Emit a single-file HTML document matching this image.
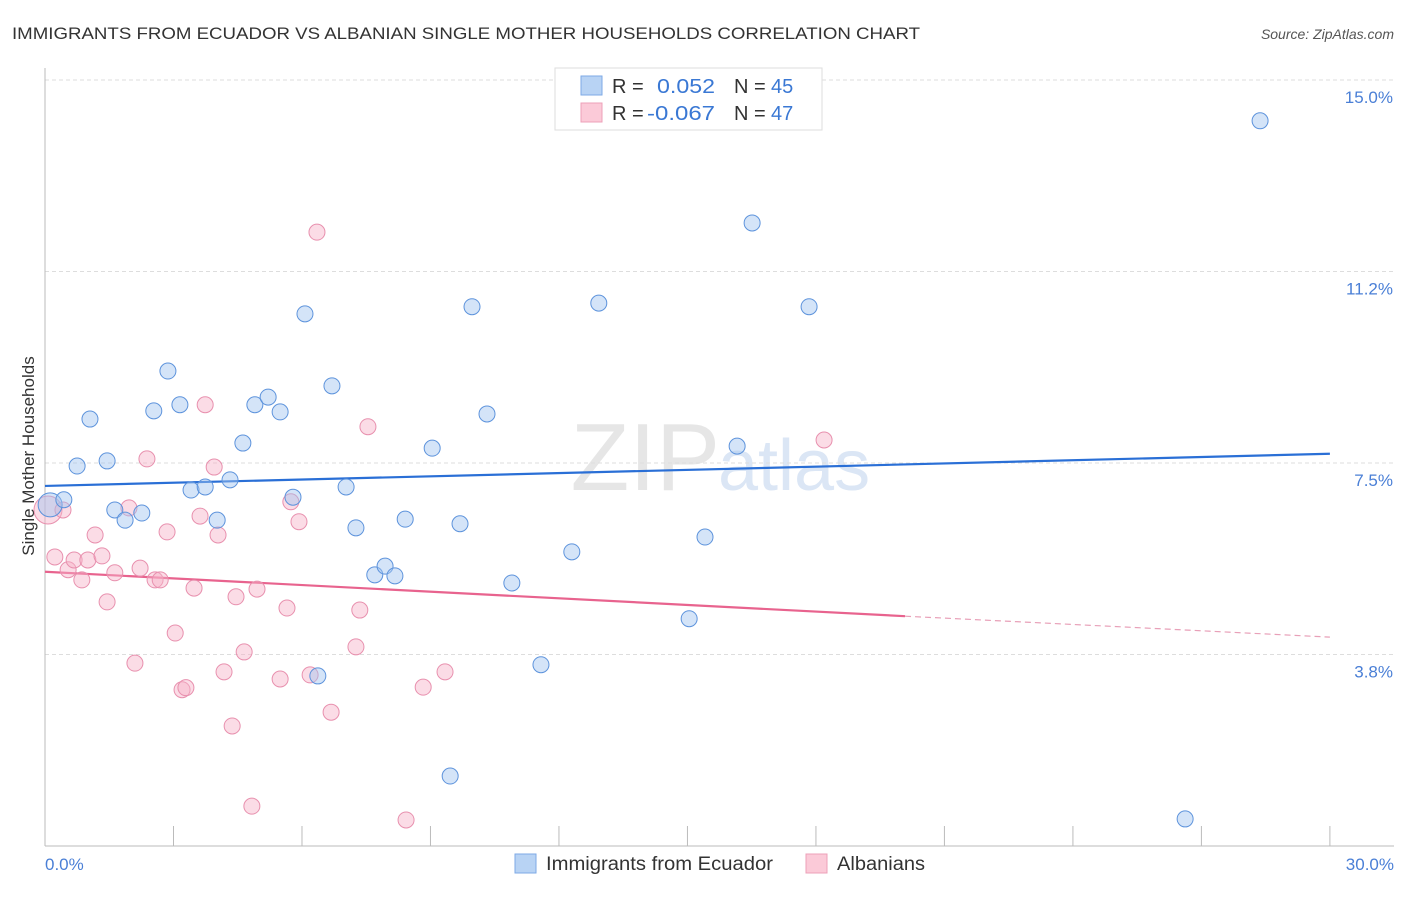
<!DOCTYPE html>
<html><head><meta charset="utf-8"><style>
body{margin:0;background:#fff;font-family:"Liberation Sans",sans-serif;}
svg text{font-family:"Liberation Sans",sans-serif;}
</style></head><body>
<svg id="chart" width="1406" height="892" xmlns="http://www.w3.org/2000/svg">
<text x="12" y="39" font-size="17" fill="#333" textLength="908" lengthAdjust="spacingAndGlyphs">IMMIGRANTS FROM ECUADOR VS ALBANIAN SINGLE MOTHER HOUSEHOLDS CORRELATION CHART</text>
<text x="1394" y="39" font-size="14" fill="#555" font-style="italic" text-anchor="end">Source: ZipAtlas.com</text>
<text x="720" y="490" font-size="96" fill="#e6e6e6" text-anchor="end" font-family="Liberation Serif">ZIP</text>
<text x="718" y="490" font-size="72" fill="#dbe6f5">atlas</text>
<g id="grid"></g><g id="axes"></g><g id="lines"></g><g id="pts"></g>
<text transform="translate(34,456) rotate(-90)" font-size="17" fill="#333" text-anchor="middle">Single Mother Households</text>
<text x="45" y="870" font-size="17" fill="#4a7fd6">0.0%</text>
<text x="1394" y="870" font-size="17" fill="#4a7fd6" text-anchor="end">30.0%</text>
<g>
<rect x="555" y="68" width="267" height="62" fill="#fff" stroke="#ddd"/>
<rect x="581" y="76" width="21" height="19" fill="#b8d3f4" stroke="#7eaae6"/>
<rect x="581" y="103" width="21" height="19" fill="#fbcad8" stroke="#eea0b8"/>
<text x="612" y="93" font-size="20" fill="#333">R =</text><text x="657" y="93" font-size="20" fill="#3a78d4" textLength="58" lengthAdjust="spacingAndGlyphs">0.052</text>
<text x="734" y="93" font-size="20" fill="#333">N =</text><text x="771" y="93" font-size="20" fill="#3a78d4">45</text>
<text x="612" y="120" font-size="20" fill="#333">R =</text><text x="647" y="120" font-size="20" fill="#3a78d4" textLength="68" lengthAdjust="spacingAndGlyphs">-0.067</text>
<text x="734" y="120" font-size="20" fill="#333">N =</text><text x="771" y="120" font-size="20" fill="#3a78d4">47</text>
</g>
<g>
<rect x="515" y="854" width="21" height="19" fill="#b8d3f4" stroke="#7eaae6"/>
<text x="546" y="870" font-size="19" fill="#333" textLength="227" lengthAdjust="spacingAndGlyphs">Immigrants from Ecuador</text>
<rect x="806" y="854" width="21" height="19" fill="#fbcad8" stroke="#eea0b8"/>
<text x="837" y="870" font-size="19" fill="#333" textLength="88" lengthAdjust="spacingAndGlyphs">Albanians</text>
</g>
</svg>
<script>
const yTicks=[3.8,7.5,11.2,15.0];
const yTickVals=[3.75,7.5,11.25,15];
const xTicks=[0,3,6,9,12,15,18,21,24,27,30];
const blueX=[0.12,0.44,0.75,1.05,1.45,1.63,1.87,2.26,2.54,2.87,3.15,3.41,3.74,4.02,4.32,4.62,4.90,5.21,5.49,5.79,6.07,6.37,6.70,7.03,7.26,7.70,7.94,8.17,8.41,9.04,9.46,9.69,9.97,10.32,10.90,11.58,12.30,12.93,15.04,15.41,16.16,16.51,17.84,26.62,28.37];
const blueY=[6.68,6.78,7.44,8.36,7.54,6.58,6.38,6.52,8.52,9.30,8.64,6.97,7.03,6.38,7.17,7.89,8.64,8.79,8.50,6.83,10.42,3.33,9.01,7.03,6.23,5.31,5.48,5.29,6.40,7.79,1.37,6.31,10.56,8.46,5.15,3.55,5.76,10.63,4.45,6.05,7.83,12.20,10.56,0.53,14.20];
const pinkX=[0.07,0.23,0.42,0.54,0.68,0.86,1.00,1.17,1.33,1.45,1.63,1.96,2.10,2.22,2.38,2.57,2.69,2.85,3.04,3.20,3.29,3.48,3.62,3.74,3.95,4.04,4.18,4.37,4.46,4.65,4.83,4.95,5.49,5.65,5.74,5.93,6.19,6.35,6.68,7.26,7.35,7.54,8.43,8.83,9.34,18.19];
const pinkY=[6.58,5.66,6.58,5.41,5.60,5.21,5.60,6.09,5.68,4.78,5.35,6.62,3.58,5.44,7.58,5.21,5.21,6.15,4.17,3.06,3.10,5.05,6.46,8.64,7.42,6.09,3.41,2.35,4.88,3.80,0.78,5.03,3.27,4.66,6.74,6.35,3.35,12.02,2.62,3.90,4.62,8.21,0.51,3.11,3.41,7.95];
const blueTrend=[7.05,7.68];
const pinkTrend=[5.37,4.50,4.09];
const pinkTrendX=[0,20.08,30];
const NS="http://www.w3.org/2000/svg";
const X=v=>45+v*42.83, Y=v=>846-v*51.07;
function mk(t,a,p){const e=document.createElementNS(NS,t);for(const k in a)e.setAttribute(k,a[k]);document.getElementById(p).appendChild(e);return e;}
yTickVals.forEach((v,i)=>{
 const l=mk('line',{x1:45,x2:1394,y1:Y(v),y2:Y(v),stroke:'#ddd','stroke-dasharray':'4,3'},'grid');
 
 
 const t=mk('text',{x:1393,y:Y(v)+23,'font-size':17,fill:'#4a7fd6','text-anchor':'end'},'grid');
 t.textContent=yTicks[i].toFixed(1)+'%';
 
 
});
const ya=mk('line',{x1:45,x2:45,y1:68,y2:846,stroke:'#bbb'},'axes');


const xa=mk('line',{x1:45,x2:1394,y1:846,y2:846,stroke:'#bbb'},'axes');


xTicks.forEach(v=>{const t=mk('line',{x1:X(v),x2:X(v),y1:826,y2:846,stroke:'#bbb'},'axes');
 
 });
const bl=mk('line',{x1:X(0),x2:X(30),y1:Y(blueTrend[0]),y2:Y(blueTrend[1]),stroke:'#2a6fd6','stroke-width':2.2},'lines');


const pl=mk('line',{x1:X(pinkTrendX[0]),x2:X(pinkTrendX[1]),y1:Y(pinkTrend[0]),y2:Y(pinkTrend[1]),stroke:'#e8638e','stroke-width':2.2},'lines');


const pd=mk('line',{x1:X(pinkTrendX[1]),x2:X(pinkTrendX[2]),y1:Y(pinkTrend[1]),y2:Y(pinkTrend[2]),stroke:'#e8a0b8','stroke-width':1.2,'stroke-dasharray':'6,4'},'lines');


pinkX.forEach((v,i)=>{const c=mk('circle',{cx:X(v),cy:Y(pinkY[i]),r:i==0?14:8,fill:'rgba(246,178,200,0.45)',stroke:'#e890ae','stroke-width':1},'pts');
 
 });
blueX.forEach((v,i)=>{const c=mk('circle',{cx:X(v),cy:Y(blueY[i]),r:i==0?12:8,fill:'rgba(160,196,240,0.45)',stroke:'#5d93dc','stroke-width':1},'pts');
 
 });
</script>
</body></html>
